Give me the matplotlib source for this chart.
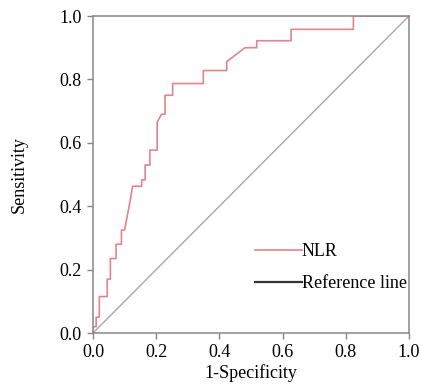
import matplotlib
matplotlib.use('Agg')
import matplotlib.pyplot as plt

# ROC curve vertices (1-specificity, sensitivity)
fpr = [0.0, 0.0, 0.01, 0.01, 0.02, 0.02, 0.045, 0.045, 0.055, 0.055,
       0.073, 0.073, 0.09, 0.09, 0.10, 0.12, 0.125, 0.154, 0.154, 0.165,
       0.165, 0.18, 0.18, 0.19, 0.203, 0.203, 0.217, 0.228, 0.228, 0.252,
       0.252, 0.349, 0.349, 0.423, 0.423, 0.481, 0.518, 0.518, 0.627,
       0.627, 0.824, 0.824, 1.0]
tpr = [0.0, 0.02, 0.02, 0.05, 0.05, 0.115, 0.115, 0.17, 0.17, 0.235,
       0.235, 0.28, 0.28, 0.325, 0.325, 0.43, 0.463, 0.463, 0.483, 0.483,
       0.53, 0.53, 0.577, 0.577, 0.577, 0.665, 0.69, 0.69, 0.75, 0.75,
       0.787, 0.787, 0.828, 0.828, 0.856, 0.90, 0.90, 0.922, 0.922,
       0.958, 0.958, 1.0, 1.0]
ref = [0.0, 1.0]
ticks = [0.0, 0.2, 0.4, 0.6, 0.8, 1.0]

plt.rcParams['font.family'] = ['Liberation Serif', 'DejaVu Serif']
plt.rcParams['font.size'] = 13

fig = plt.figure(figsize=(4.22, 3.84), dpi=100)
ax = fig.add_axes([0.2204, 0.1328, 0.7488, 0.8255])

ax.plot(fpr, tpr, color='#e0868c', linewidth=1.2, label='NLR')
ax.plot(ref, ref, color='#a8a8a8', linewidth=1.0)
# legend entry for the reference line is drawn black
ax.plot([], [], color='#333333', linewidth=1.6, label='Reference line')

ax.set_xlim(0, 1)
ax.set_ylim(0, 1)
ax.set_xticks(ticks)
ax.set_yticks(ticks)
ax.set_xticklabels([f'{t:.1f}' for t in ticks])
ax.set_yticklabels([f'{t:.1f}' for t in ticks])
ax.tick_params(direction='out', length=4, width=1, color='#888888', labelsize=13, pad=4)
for s in ax.spines.values():
    s.set_color('#888888')
    s.set_linewidth(1.1)

ax.set_xlabel('1-Specificity', fontsize=13, labelpad=2)
ax.set_ylabel('Sensitivity', fontsize=13, labelpad=23)

ax.legend(loc='lower left', bbox_to_anchor=(0.49, 0.105), frameon=False,
          handlelength=2.6, handletextpad=0.0, labelspacing=0.85,
          fontsize=13, borderaxespad=0)

fig.savefig('out.png', dpi=100)
